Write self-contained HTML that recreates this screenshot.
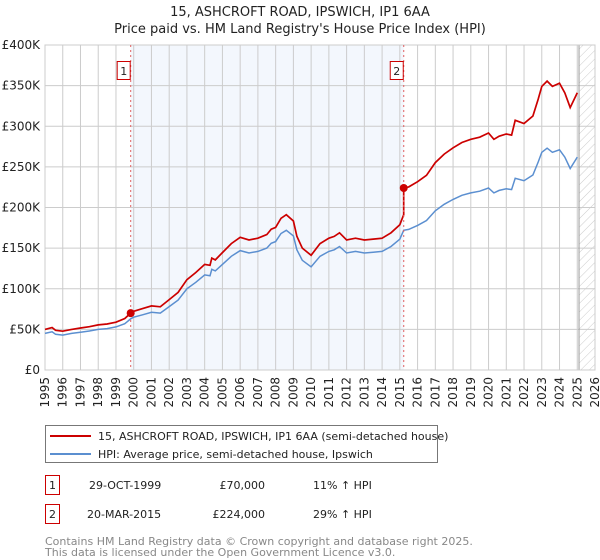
<!DOCTYPE html>
<html><head><meta charset="utf-8"><style>
body{margin:0;background:#fff;font-family:"DejaVu Sans","Liberation Sans",sans-serif;}
svg{display:block}
</style></head><body>
<svg id="chart" width="600" height="560" viewBox="0 0 600 560" font-family="DejaVu Sans, Liberation Sans, sans-serif">
<defs><pattern id="hatch" width="6" height="6" patternUnits="userSpaceOnUse" patternTransform="rotate(45)"><line x1="0" y1="0" x2="0" y2="6" stroke="#ccc" stroke-width="1"/></pattern></defs>
<text x="300" y="16" text-anchor="middle" font-size="13" fill="#222">15, ASHCROFT ROAD, IPSWICH, IP1 6AA</text>
<text x="300" y="33" text-anchor="middle" font-size="13" fill="#222">Price paid vs. HM Land Registry's House Price Index (HPI)</text>
<g id="plot"></g>
<g>
<rect x="45.5" y="425.5" width="392" height="37" fill="#fff" stroke="#777"/>
<line x1="50" y1="436" x2="91" y2="436" stroke="#cc0000" stroke-width="2"/>
<text x="98" y="440" font-size="11" fill="#222">15, ASHCROFT ROAD, IPSWICH, IP1 6AA (semi-detached house)</text>
<line x1="50" y1="454" x2="91" y2="454" stroke="#5b8fd0" stroke-width="2"/>
<text x="98" y="458" font-size="11" fill="#222">HPI: Average price, semi-detached house, Ipswich</text>
</g>
<g font-size="11" fill="#222">
<rect x="45.5" y="475.5" width="14" height="19" fill="#fff" stroke="#cc0000"/>
<text x="52.5" y="489" text-anchor="middle">1</text>
<text x="89" y="489">29-OCT-1999</text>
<text x="265" y="489" text-anchor="end">£70,000</text>
<text x="313" y="489">11% ↑ HPI</text>
<rect x="45.5" y="504.5" width="14" height="19" fill="#fff" stroke="#cc0000"/>
<text x="52.5" y="518" text-anchor="middle">2</text>
<text x="87" y="518">20-MAR-2015</text>
<text x="265" y="518" text-anchor="end">£224,000</text>
<text x="313" y="518">29% ↑ HPI</text>
</g>
<text x="45" y="545" font-size="11" fill="#888">Contains HM Land Registry data © Crown copyright and database right 2025.</text>
<text x="45" y="556" font-size="11" fill="#888">This data is licensed under the Open Government Licence v3.0.</text>
</svg>
<script>
const hpiYears=[1995,1995.4,1995.6,1996,1996.5,1997,1997.5,1998,1998.5,1999,1999.5,1999.83,2000,2000.5,2001,2001.5,2002,2002.5,2003,2003.5,2004,2004.3,2004.4,2004.6,2005,2005.5,2006,2006.5,2007,2007.5,2007.75,2008,2008.3,2008.6,2009,2009.2,2009.5,2010,2010.5,2011,2011.3,2011.6,2012,2012.5,2013,2013.5,2014,2014.5,2015,2015.22,2015.5,2016,2016.5,2017,2017.5,2018,2018.5,2019,2019.5,2020,2020.3,2020.6,2021,2021.3,2021.5,2022,2022.5,2022.8,2023,2023.3,2023.6,2024,2024.3,2024.6,2025];
const hpiValues=[45,47,44,43,45,46.5,48,50,51,53,57,63,65,68,71,70,78,86,100,108,117,116,124,122,130,140,147,144,146,150,156,158,168,172,165,148,135,127,140,146,148,152,144,146,144,145,146,152,161,172,173,178,184,196,204,210,215,218,220,224,218,221,223,222,236,233,240,256,268,273,268,271,262,248,262];
const saleYears=[1999.83,2015.22];
const salePrices=[70,224];
const yTicks=[0,50,100,150,200,250,300,350,400];
const yTickLabels=["£0","£50K","£100K","£150K","£200K","£250K","£300K","£350K","£400K"];
const xTicks=[1995,1996,1997,1998,1999,2000,2001,2002,2003,2004,2005,2006,2007,2008,2009,2010,2011,2012,2013,2014,2015,2016,2017,2018,2019,2020,2021,2022,2023,2024,2025,2026];

const NS="http://www.w3.org/2000/svg";
const L=45,R=595,T=45,B=370;
const xs=y=>L+(y-1995)/(2026-1995)*(R-L);
const ys=v=>B-v/400*(B-T);
const g=document.getElementById('plot');
function mk(t,a){const e=document.createElementNS(NS,t);for(const k in a)e.setAttribute(k,a[k]);g.appendChild(e);return e;}
function hpiAt(y){for(let i=0;i<hpiYears.length-1;i++){if(y>=hpiYears[i]&&y<=hpiYears[i+1]){const f=(y-hpiYears[i])/(hpiYears[i+1]-hpiYears[i]);return hpiValues[i]+f*(hpiValues[i+1]-hpiValues[i]);}}return hpiValues[hpiValues.length-1];}

let e=mk('rect',{x:xs(saleYears[0]),y:T,width:xs(saleYears[1])-xs(saleYears[0]),height:B-T,fill:'#eef3fc',opacity:0.7});


const projX=xs(2025.1);
e=mk('rect',{x:projX,y:T,width:R-projX,height:B-T,fill:'url(#hatch)'});


yTicks.forEach((v,i)=>{
  let l=mk('line',{x1:L,x2:R,y1:ys(v),y2:ys(v),stroke:'#ccc','stroke-width':1});
  
  
  let t=mk('text',{x:L-5,y:ys(v)+4,'text-anchor':'end','font-size':12,fill:'#222'});
  t.textContent=yTickLabels[i];
  
  
});
xTicks.forEach(y=>{
  let l=mk('line',{x1:xs(y),x2:xs(y),y1:T,y2:B,stroke:'#ccc','stroke-width':1});
  
  
  let t=mk('text',{x:0,y:0,'text-anchor':'end','font-size':12,fill:'#222',transform:`translate(${xs(y)+4},377) rotate(-90)`});
  t.textContent=y;
  
  
});
e=mk('line',{x1:projX,x2:projX,y1:T,y2:B,stroke:'#999','stroke-width':1});


e=mk('rect',{x:L,y:T,width:R-L,height:B-T,fill:'none',stroke:'#ccc'});


let d=hpiYears.map((y,i)=>(i?'L':'M')+xs(y).toFixed(1)+','+ys(hpiValues[i]).toFixed(1)).join('');
e=mk('path',{d:d,fill:'none',stroke:'#5b8fd0','stroke-width':1.5});


const r1=salePrices[0]/hpiAt(saleYears[0]),r2=salePrices[1]/hpiAt(saleYears[1]);
let pts=[];
hpiYears.forEach((y,i)=>{ if(y<saleYears[1]) pts.push([y,hpiValues[i]*r1]); });
pts.push([saleYears[1],hpiAt(saleYears[1])*r1]);
pts.push([saleYears[1],salePrices[1]]);
hpiYears.forEach((y,i)=>{if(y>saleYears[1]) pts.push([y,hpiValues[i]*r2]);});
d=pts.map((p,i)=>(i?'L':'M')+xs(p[0]).toFixed(1)+','+ys(p[1]).toFixed(1)).join('');
e=mk('path',{d:d,fill:'none',stroke:'#cc0000','stroke-width':1.7});


saleYears.forEach((y,i)=>{
  let l=mk('line',{x1:xs(y),x2:xs(y),y1:T,y2:B,stroke:'#e06060','stroke-width':1,'stroke-dasharray':'2,3'});
  
  
  let c=mk('circle',{cx:xs(y),cy:ys(salePrices[i]),r:4,fill:'#cc0000'});
  
  
  let b=mk('rect',{x:xs(y)-13.5,y:61.5,width:13,height:18,fill:'#fff',stroke:'#cc0000'});
  
  
  let t=mk('text',{x:xs(y)-7,y:75,'text-anchor':'middle','font-size':11,fill:'#222'});
  t.textContent=String(i+1);
  
  
});
</script>
</body></html>
